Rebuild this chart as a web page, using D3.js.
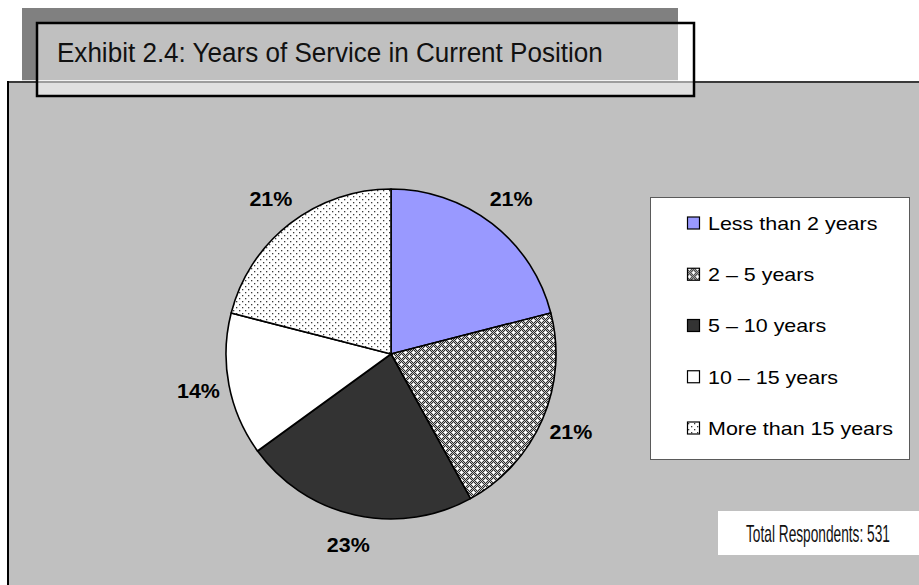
<!DOCTYPE html>
<html>
<head>
<meta charset="utf-8">
<script src="https://cdn.jsdelivr.net/npm/d3@7/dist/d3.min.js"></script>
<style>
  html, body { margin: 0; padding: 0; background: #ffffff; }
  svg { display: block; }
</style>
</head>
<body>
<svg id="chart" width="919" height="585"></svg>
<script>
// Years of service in current position (share of respondents, %)
const categories = ["Less than 2 years", "2 \u2013 5 years", "5 \u2013 10 years", "10 \u2013 15 years", "More than 15 years"];
const shares = [21, 21, 23, 14, 21];
const fills = ["#9999ff", "url(#checkStar)", "#333333", "#ffffff", "url(#sparseDots)"];
const titleText = "Exhibit 2.4: Years of Service in Current Position";
const totalRespondents = 531;

const svg = d3.select("#chart");
const W = 919, H = 585;

// Squeeze a text horizontally so it spans the given width (narrow lettering)
function condense(sel, x, y, width) {
  const len = sel.node().getComputedTextLength();
  sel.attr("transform", `translate(${x},${y}) scale(${width / len},1)`);
}

// ---- fill patterns ----
const defs = svg.append("defs");

const p1 = defs.append("pattern")
  .attr("id", "checkStar").attr("patternUnits", "userSpaceOnUse")
  .attr("width", 8).attr("height", 8);
p1.append("rect").attr("width", 8).attr("height", 8).attr("fill", "#2a2a2a");
for (let y = 0; y < 8; y++) {
  for (let x = 0; x < 8; x++) {
    if ((x + y) % 2 === 0) {
      p1.append("rect").attr("x", x).attr("y", y).attr("width", 1).attr("height", 1)
        .attr("fill", "#c4c4c4");
    }
  }
}
// small white crosses on the checker ground
[[2, 2], [6, 6]].forEach(([cx, cy]) => {
  p1.append("rect").attr("x", cx - 1).attr("y", cy).attr("width", 3).attr("height", 1).attr("fill", "#ffffff");
  p1.append("rect").attr("x", cx).attr("y", cy - 1).attr("width", 1).attr("height", 3).attr("fill", "#ffffff");
});

const p2 = defs.append("pattern")
  .attr("id", "sparseDots").attr("patternUnits", "userSpaceOnUse")
  .attr("width", 6).attr("height", 6);
p2.append("rect").attr("width", 6).attr("height", 6).attr("fill", "#ffffff");
[[1, 1], [4, 4]].forEach(([dx, dy]) => {
  p2.append("rect").attr("x", dx).attr("y", dy).attr("width", 1.3).attr("height", 1.3).attr("fill", "#3a3a3a");
});

// ---- background frames ----
// grey chart panel
svg.append("rect").attr("x", 8).attr("y", 81).attr("width", W - 8).attr("height", H - 81)
  .attr("fill", "#c0c0c0");
svg.append("line").attr("x1", 8).attr("x2", W).attr("y1", 82).attr("y2", 82)
  .attr("stroke", "#3a3a3a").attr("stroke-width", 2);
svg.append("line").attr("x1", 8).attr("x2", 8).attr("y1", 81).attr("y2", H)
  .attr("stroke", "#000").attr("stroke-width", 2);

// dark title band
svg.append("rect").attr("x", 22).attr("y", 8).attr("width", 656).attr("height", 72)
  .attr("fill", "#808080");
svg.append("line").attr("x1", 22).attr("x2", 678).attr("y1", 80.5).attr("y2", 80.5)
  .attr("stroke", "#e6e6e6").attr("stroke-width", 1);

// translucent title box
svg.append("rect").attr("x", 37).attr("y", 23).attr("width", 657).attr("height", 73)
  .attr("fill", "#ffffff").attr("fill-opacity", 0.5)
  .attr("stroke", "#000").attr("stroke-width", 2.5);

const title = svg.append("text")
  .attr("font-family", "'Liberation Sans', Arial, sans-serif")
  .attr("font-size", 28)
  .attr("fill", "#111")
  .text(titleText);
condense(title, 57, 62, 546);

// ---- pie ----
const cx = 391, cy = 354, R = 165;
const pie = d3.pie().sort(null).value(d => d);
const arcs = pie(shares);
const arc = d3.arc().innerRadius(0).outerRadius(R);
const labelArc = d3.arc().innerRadius(196).outerRadius(196);

const g = svg.append("g").attr("transform", `translate(${cx},${cy})`);
g.selectAll("path.slice")
  .data(arcs)
  .join("path")
  .attr("class", "slice")
  .attr("d", arc)
  .attr("fill", (d, i) => fills[i])
  .attr("stroke", "#000")
  .attr("stroke-width", 1.6)
  .attr("stroke-linejoin", "round");

g.selectAll("text.pct")
  .data(arcs)
  .join("text")
  .attr("class", "pct")
  .attr("transform", d => {
    const [x, y] = labelArc.centroid(d);
    return `translate(${x},${y}) scale(1.1,1)`;
  })
  .attr("text-anchor", "middle")
  .attr("dy", "0.36em")
  .attr("font-family", "'Liberation Sans', Arial, sans-serif")
  .attr("font-weight", "bold")
  .attr("font-size", 19.5)
  .attr("fill", "#000")
  .text(d => d.data + "%");

// ---- legend ----
const legend = svg.append("g");
legend.append("rect").attr("x", 650.5).attr("y", 197.5).attr("width", 259).attr("height", 262)
  .attr("fill", "#ffffff").attr("stroke", "#5a5a5a").attr("stroke-width", 1);

const legendY = d3.scalePoint().domain(categories).range([223, 428]);
const items = legend.selectAll("g.item")
  .data(categories)
  .join("g")
  .attr("class", "item")
  .attr("transform", d => `translate(687,${legendY(d)})`);

items.append("rect")
  .attr("x", 0.5).attr("y", -6).attr("width", 12).attr("height", 12)
  .attr("fill", (d, i) => fills[i])
  .attr("stroke", "#000").attr("stroke-width", 1.2);

items.append("text")
  .attr("transform", "translate(21,0) scale(1.13,1)")
  .attr("dy", "0.36em")
  .attr("font-family", "'Liberation Sans', Arial, sans-serif")
  .attr("font-size", 19)
  .attr("fill", "#000")
  .text(d => d);

// ---- respondents note ----
svg.append("rect").attr("x", 718).attr("y", 511).attr("width", W - 718).attr("height", 44)
  .attr("fill", "#ffffff");
const note = svg.append("text")
  .attr("dy", "0.36em")
  .attr("font-family", "'Liberation Sans', Arial, sans-serif")
  .attr("font-size", 23)
  .attr("fill", "#111")
  .text("Total Respondents: " + totalRespondents);
condense(note, 746, 534, 144);
</script>
</body>
</html>
